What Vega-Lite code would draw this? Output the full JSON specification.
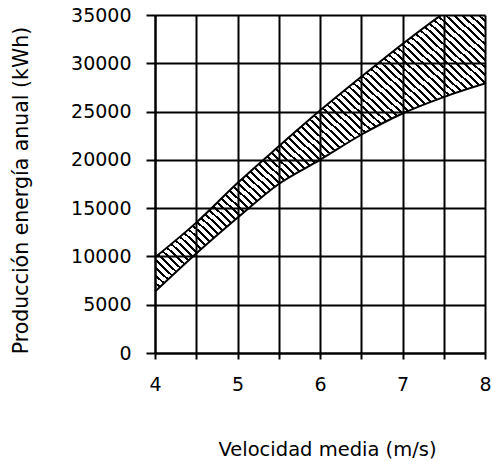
{
  "$schema": "https://vega.github.io/schema/vega-lite/v6.json",
  "width": 330,
  "height": 338,
  "autosize": "none",
  "padding": {"left": 155, "top": 15, "right": 7, "bottom": 108},
  "background": "white",
  "config": {
    "view": {"stroke": null},
    "axis": {
      "grid": true,
      "gridColor": "#000",
      "gridWidth": 2,
      "gridOpacity": 1,
      "domainColor": "#000",
      "domainWidth": 2,
      "tickColor": "#000",
      "tickWidth": 2,
      "labelColor": "#000",
      "titleColor": "#000",
      "labelFont": "DejaVu Sans",
      "titleFont": "DejaVu Sans",
      "labelFontSize": 19,
      "labelFlush": false,
      "labelOverlap": false,
      "titleFontWeight": "normal"
    }
  },
  "data": {
    "values": [
      {"v": 4.0, "lo": 6350, "hi": 9900},
      {"v": 4.5, "lo": 10300, "hi": 13500},
      {"v": 5.0, "lo": 14000, "hi": 17600},
      {"v": 5.5, "lo": 17500, "hi": 21400},
      {"v": 6.0, "lo": 20000, "hi": 25100},
      {"v": 6.5, "lo": 22600, "hi": 28600},
      {"v": 7.0, "lo": 24800, "hi": 32000},
      {"v": 7.5, "lo": 26500, "hi": 35200},
      {"v": 8.0, "lo": 27900, "hi": 38200}
    ]
  },
  "encoding": {
    "x": {
      "field": "v", "type": "quantitative",
      "scale": {"domain": [4, 8], "nice": false, "zero": false},
      "axis": {
        "values": [4, 4.5, 5, 5.5, 6, 6.5, 7, 7.5, 8],
        "labelExpr": "datum.value % 1 === 0 ? format(datum.value, 'd') : ''",
        "tickSize": 6,
        "labelPadding": 16,
        "title": "Velocidad media (m/s)",
        "titleFontSize": 19.5,
        "titleX": 172,
        "titleY": 102,
        "titleBaseline": "alphabetic",
        "titleAlign": "center"
      }
    }
  },
  "layer": [
    {
      "mark": {
        "type": "area",
        "interpolate": "monotone",
        "clip": true,
        "fill": {
          "gradient": "linear", "x1": 0, "y1": 1, "x2": 1, "y2": 0,
          "stops": [
            {"offset": 0, "color": "#000"}, {"offset": 0.0045, "color": "#000"}, {"offset": 0.0045, "color": "rgba(0,0,0,0)"}, {"offset": 0.0125, "color": "rgba(0,0,0,0)"},
            {"offset": 0.0125, "color": "#000"}, {"offset": 0.017, "color": "#000"}, {"offset": 0.017, "color": "rgba(0,0,0,0)"}, {"offset": 0.025, "color": "rgba(0,0,0,0)"},
            {"offset": 0.025, "color": "#000"}, {"offset": 0.0295, "color": "#000"}, {"offset": 0.0295, "color": "rgba(0,0,0,0)"}, {"offset": 0.0375, "color": "rgba(0,0,0,0)"},
            {"offset": 0.0375, "color": "#000"}, {"offset": 0.042, "color": "#000"}, {"offset": 0.042, "color": "rgba(0,0,0,0)"}, {"offset": 0.05, "color": "rgba(0,0,0,0)"},
            {"offset": 0.05, "color": "#000"}, {"offset": 0.0545, "color": "#000"}, {"offset": 0.0545, "color": "rgba(0,0,0,0)"}, {"offset": 0.0625, "color": "rgba(0,0,0,0)"},
            {"offset": 0.0625, "color": "#000"}, {"offset": 0.067, "color": "#000"}, {"offset": 0.067, "color": "rgba(0,0,0,0)"}, {"offset": 0.075, "color": "rgba(0,0,0,0)"},
            {"offset": 0.075, "color": "#000"}, {"offset": 0.0795, "color": "#000"}, {"offset": 0.0795, "color": "rgba(0,0,0,0)"}, {"offset": 0.0875, "color": "rgba(0,0,0,0)"},
            {"offset": 0.0875, "color": "#000"}, {"offset": 0.092, "color": "#000"}, {"offset": 0.092, "color": "rgba(0,0,0,0)"}, {"offset": 0.1, "color": "rgba(0,0,0,0)"},
            {"offset": 0.1, "color": "#000"}, {"offset": 0.1045, "color": "#000"}, {"offset": 0.1045, "color": "rgba(0,0,0,0)"}, {"offset": 0.1125, "color": "rgba(0,0,0,0)"},
            {"offset": 0.1125, "color": "#000"}, {"offset": 0.117, "color": "#000"}, {"offset": 0.117, "color": "rgba(0,0,0,0)"}, {"offset": 0.125, "color": "rgba(0,0,0,0)"},
            {"offset": 0.125, "color": "#000"}, {"offset": 0.1295, "color": "#000"}, {"offset": 0.1295, "color": "rgba(0,0,0,0)"}, {"offset": 0.1375, "color": "rgba(0,0,0,0)"},
            {"offset": 0.1375, "color": "#000"}, {"offset": 0.142, "color": "#000"}, {"offset": 0.142, "color": "rgba(0,0,0,0)"}, {"offset": 0.15, "color": "rgba(0,0,0,0)"},
            {"offset": 0.15, "color": "#000"}, {"offset": 0.1545, "color": "#000"}, {"offset": 0.1545, "color": "rgba(0,0,0,0)"}, {"offset": 0.1625, "color": "rgba(0,0,0,0)"},
            {"offset": 0.1625, "color": "#000"}, {"offset": 0.167, "color": "#000"}, {"offset": 0.167, "color": "rgba(0,0,0,0)"}, {"offset": 0.175, "color": "rgba(0,0,0,0)"},
            {"offset": 0.175, "color": "#000"}, {"offset": 0.1795, "color": "#000"}, {"offset": 0.1795, "color": "rgba(0,0,0,0)"}, {"offset": 0.1875, "color": "rgba(0,0,0,0)"},
            {"offset": 0.1875, "color": "#000"}, {"offset": 0.192, "color": "#000"}, {"offset": 0.192, "color": "rgba(0,0,0,0)"}, {"offset": 0.2, "color": "rgba(0,0,0,0)"},
            {"offset": 0.2, "color": "#000"}, {"offset": 0.2045, "color": "#000"}, {"offset": 0.2045, "color": "rgba(0,0,0,0)"}, {"offset": 0.2125, "color": "rgba(0,0,0,0)"},
            {"offset": 0.2125, "color": "#000"}, {"offset": 0.217, "color": "#000"}, {"offset": 0.217, "color": "rgba(0,0,0,0)"}, {"offset": 0.225, "color": "rgba(0,0,0,0)"},
            {"offset": 0.225, "color": "#000"}, {"offset": 0.2295, "color": "#000"}, {"offset": 0.2295, "color": "rgba(0,0,0,0)"}, {"offset": 0.2375, "color": "rgba(0,0,0,0)"},
            {"offset": 0.2375, "color": "#000"}, {"offset": 0.242, "color": "#000"}, {"offset": 0.242, "color": "rgba(0,0,0,0)"}, {"offset": 0.25, "color": "rgba(0,0,0,0)"},
            {"offset": 0.25, "color": "#000"}, {"offset": 0.2545, "color": "#000"}, {"offset": 0.2545, "color": "rgba(0,0,0,0)"}, {"offset": 0.2625, "color": "rgba(0,0,0,0)"},
            {"offset": 0.2625, "color": "#000"}, {"offset": 0.267, "color": "#000"}, {"offset": 0.267, "color": "rgba(0,0,0,0)"}, {"offset": 0.275, "color": "rgba(0,0,0,0)"},
            {"offset": 0.275, "color": "#000"}, {"offset": 0.2795, "color": "#000"}, {"offset": 0.2795, "color": "rgba(0,0,0,0)"}, {"offset": 0.2875, "color": "rgba(0,0,0,0)"},
            {"offset": 0.2875, "color": "#000"}, {"offset": 0.292, "color": "#000"}, {"offset": 0.292, "color": "rgba(0,0,0,0)"}, {"offset": 0.3, "color": "rgba(0,0,0,0)"},
            {"offset": 0.3, "color": "#000"}, {"offset": 0.3045, "color": "#000"}, {"offset": 0.3045, "color": "rgba(0,0,0,0)"}, {"offset": 0.3125, "color": "rgba(0,0,0,0)"},
            {"offset": 0.3125, "color": "#000"}, {"offset": 0.317, "color": "#000"}, {"offset": 0.317, "color": "rgba(0,0,0,0)"}, {"offset": 0.325, "color": "rgba(0,0,0,0)"},
            {"offset": 0.325, "color": "#000"}, {"offset": 0.3295, "color": "#000"}, {"offset": 0.3295, "color": "rgba(0,0,0,0)"}, {"offset": 0.3375, "color": "rgba(0,0,0,0)"},
            {"offset": 0.3375, "color": "#000"}, {"offset": 0.342, "color": "#000"}, {"offset": 0.342, "color": "rgba(0,0,0,0)"}, {"offset": 0.35, "color": "rgba(0,0,0,0)"},
            {"offset": 0.35, "color": "#000"}, {"offset": 0.3545, "color": "#000"}, {"offset": 0.3545, "color": "rgba(0,0,0,0)"}, {"offset": 0.3625, "color": "rgba(0,0,0,0)"},
            {"offset": 0.3625, "color": "#000"}, {"offset": 0.367, "color": "#000"}, {"offset": 0.367, "color": "rgba(0,0,0,0)"}, {"offset": 0.375, "color": "rgba(0,0,0,0)"},
            {"offset": 0.375, "color": "#000"}, {"offset": 0.3795, "color": "#000"}, {"offset": 0.3795, "color": "rgba(0,0,0,0)"}, {"offset": 0.3875, "color": "rgba(0,0,0,0)"},
            {"offset": 0.3875, "color": "#000"}, {"offset": 0.392, "color": "#000"}, {"offset": 0.392, "color": "rgba(0,0,0,0)"}, {"offset": 0.4, "color": "rgba(0,0,0,0)"},
            {"offset": 0.4, "color": "#000"}, {"offset": 0.4045, "color": "#000"}, {"offset": 0.4045, "color": "rgba(0,0,0,0)"}, {"offset": 0.4125, "color": "rgba(0,0,0,0)"},
            {"offset": 0.4125, "color": "#000"}, {"offset": 0.417, "color": "#000"}, {"offset": 0.417, "color": "rgba(0,0,0,0)"}, {"offset": 0.425, "color": "rgba(0,0,0,0)"},
            {"offset": 0.425, "color": "#000"}, {"offset": 0.4295, "color": "#000"}, {"offset": 0.4295, "color": "rgba(0,0,0,0)"}, {"offset": 0.4375, "color": "rgba(0,0,0,0)"},
            {"offset": 0.4375, "color": "#000"}, {"offset": 0.442, "color": "#000"}, {"offset": 0.442, "color": "rgba(0,0,0,0)"}, {"offset": 0.45, "color": "rgba(0,0,0,0)"},
            {"offset": 0.45, "color": "#000"}, {"offset": 0.4545, "color": "#000"}, {"offset": 0.4545, "color": "rgba(0,0,0,0)"}, {"offset": 0.4625, "color": "rgba(0,0,0,0)"},
            {"offset": 0.4625, "color": "#000"}, {"offset": 0.467, "color": "#000"}, {"offset": 0.467, "color": "rgba(0,0,0,0)"}, {"offset": 0.475, "color": "rgba(0,0,0,0)"},
            {"offset": 0.475, "color": "#000"}, {"offset": 0.4795, "color": "#000"}, {"offset": 0.4795, "color": "rgba(0,0,0,0)"}, {"offset": 0.4875, "color": "rgba(0,0,0,0)"},
            {"offset": 0.4875, "color": "#000"}, {"offset": 0.492, "color": "#000"}, {"offset": 0.492, "color": "rgba(0,0,0,0)"}, {"offset": 0.5, "color": "rgba(0,0,0,0)"},
            {"offset": 0.5, "color": "#000"}, {"offset": 0.5045, "color": "#000"}, {"offset": 0.5045, "color": "rgba(0,0,0,0)"}, {"offset": 0.5125, "color": "rgba(0,0,0,0)"},
            {"offset": 0.5125, "color": "#000"}, {"offset": 0.517, "color": "#000"}, {"offset": 0.517, "color": "rgba(0,0,0,0)"}, {"offset": 0.525, "color": "rgba(0,0,0,0)"},
            {"offset": 0.525, "color": "#000"}, {"offset": 0.5295, "color": "#000"}, {"offset": 0.5295, "color": "rgba(0,0,0,0)"}, {"offset": 0.5375, "color": "rgba(0,0,0,0)"},
            {"offset": 0.5375, "color": "#000"}, {"offset": 0.542, "color": "#000"}, {"offset": 0.542, "color": "rgba(0,0,0,0)"}, {"offset": 0.55, "color": "rgba(0,0,0,0)"},
            {"offset": 0.55, "color": "#000"}, {"offset": 0.5545, "color": "#000"}, {"offset": 0.5545, "color": "rgba(0,0,0,0)"}, {"offset": 0.5625, "color": "rgba(0,0,0,0)"},
            {"offset": 0.5625, "color": "#000"}, {"offset": 0.567, "color": "#000"}, {"offset": 0.567, "color": "rgba(0,0,0,0)"}, {"offset": 0.575, "color": "rgba(0,0,0,0)"},
            {"offset": 0.575, "color": "#000"}, {"offset": 0.5795, "color": "#000"}, {"offset": 0.5795, "color": "rgba(0,0,0,0)"}, {"offset": 0.5875, "color": "rgba(0,0,0,0)"},
            {"offset": 0.5875, "color": "#000"}, {"offset": 0.592, "color": "#000"}, {"offset": 0.592, "color": "rgba(0,0,0,0)"}, {"offset": 0.6, "color": "rgba(0,0,0,0)"},
            {"offset": 0.6, "color": "#000"}, {"offset": 0.6045, "color": "#000"}, {"offset": 0.6045, "color": "rgba(0,0,0,0)"}, {"offset": 0.6125, "color": "rgba(0,0,0,0)"},
            {"offset": 0.6125, "color": "#000"}, {"offset": 0.617, "color": "#000"}, {"offset": 0.617, "color": "rgba(0,0,0,0)"}, {"offset": 0.625, "color": "rgba(0,0,0,0)"},
            {"offset": 0.625, "color": "#000"}, {"offset": 0.6295, "color": "#000"}, {"offset": 0.6295, "color": "rgba(0,0,0,0)"}, {"offset": 0.6375, "color": "rgba(0,0,0,0)"},
            {"offset": 0.6375, "color": "#000"}, {"offset": 0.642, "color": "#000"}, {"offset": 0.642, "color": "rgba(0,0,0,0)"}, {"offset": 0.65, "color": "rgba(0,0,0,0)"},
            {"offset": 0.65, "color": "#000"}, {"offset": 0.6545, "color": "#000"}, {"offset": 0.6545, "color": "rgba(0,0,0,0)"}, {"offset": 0.6625, "color": "rgba(0,0,0,0)"},
            {"offset": 0.6625, "color": "#000"}, {"offset": 0.667, "color": "#000"}, {"offset": 0.667, "color": "rgba(0,0,0,0)"}, {"offset": 0.675, "color": "rgba(0,0,0,0)"},
            {"offset": 0.675, "color": "#000"}, {"offset": 0.6795, "color": "#000"}, {"offset": 0.6795, "color": "rgba(0,0,0,0)"}, {"offset": 0.6875, "color": "rgba(0,0,0,0)"},
            {"offset": 0.6875, "color": "#000"}, {"offset": 0.692, "color": "#000"}, {"offset": 0.692, "color": "rgba(0,0,0,0)"}, {"offset": 0.7, "color": "rgba(0,0,0,0)"},
            {"offset": 0.7, "color": "#000"}, {"offset": 0.7045, "color": "#000"}, {"offset": 0.7045, "color": "rgba(0,0,0,0)"}, {"offset": 0.7125, "color": "rgba(0,0,0,0)"},
            {"offset": 0.7125, "color": "#000"}, {"offset": 0.717, "color": "#000"}, {"offset": 0.717, "color": "rgba(0,0,0,0)"}, {"offset": 0.725, "color": "rgba(0,0,0,0)"},
            {"offset": 0.725, "color": "#000"}, {"offset": 0.7295, "color": "#000"}, {"offset": 0.7295, "color": "rgba(0,0,0,0)"}, {"offset": 0.7375, "color": "rgba(0,0,0,0)"},
            {"offset": 0.7375, "color": "#000"}, {"offset": 0.742, "color": "#000"}, {"offset": 0.742, "color": "rgba(0,0,0,0)"}, {"offset": 0.75, "color": "rgba(0,0,0,0)"},
            {"offset": 0.75, "color": "#000"}, {"offset": 0.7545, "color": "#000"}, {"offset": 0.7545, "color": "rgba(0,0,0,0)"}, {"offset": 0.7625, "color": "rgba(0,0,0,0)"},
            {"offset": 0.7625, "color": "#000"}, {"offset": 0.767, "color": "#000"}, {"offset": 0.767, "color": "rgba(0,0,0,0)"}, {"offset": 0.775, "color": "rgba(0,0,0,0)"},
            {"offset": 0.775, "color": "#000"}, {"offset": 0.7795, "color": "#000"}, {"offset": 0.7795, "color": "rgba(0,0,0,0)"}, {"offset": 0.7875, "color": "rgba(0,0,0,0)"},
            {"offset": 0.7875, "color": "#000"}, {"offset": 0.792, "color": "#000"}, {"offset": 0.792, "color": "rgba(0,0,0,0)"}, {"offset": 0.8, "color": "rgba(0,0,0,0)"},
            {"offset": 0.8, "color": "#000"}, {"offset": 0.8045, "color": "#000"}, {"offset": 0.8045, "color": "rgba(0,0,0,0)"}, {"offset": 0.8125, "color": "rgba(0,0,0,0)"},
            {"offset": 0.8125, "color": "#000"}, {"offset": 0.817, "color": "#000"}, {"offset": 0.817, "color": "rgba(0,0,0,0)"}, {"offset": 0.825, "color": "rgba(0,0,0,0)"},
            {"offset": 0.825, "color": "#000"}, {"offset": 0.8295, "color": "#000"}, {"offset": 0.8295, "color": "rgba(0,0,0,0)"}, {"offset": 0.8375, "color": "rgba(0,0,0,0)"},
            {"offset": 0.8375, "color": "#000"}, {"offset": 0.842, "color": "#000"}, {"offset": 0.842, "color": "rgba(0,0,0,0)"}, {"offset": 0.85, "color": "rgba(0,0,0,0)"},
            {"offset": 0.85, "color": "#000"}, {"offset": 0.8545, "color": "#000"}, {"offset": 0.8545, "color": "rgba(0,0,0,0)"}, {"offset": 0.8625, "color": "rgba(0,0,0,0)"},
            {"offset": 0.8625, "color": "#000"}, {"offset": 0.867, "color": "#000"}, {"offset": 0.867, "color": "rgba(0,0,0,0)"}, {"offset": 0.875, "color": "rgba(0,0,0,0)"},
            {"offset": 0.875, "color": "#000"}, {"offset": 0.8795, "color": "#000"}, {"offset": 0.8795, "color": "rgba(0,0,0,0)"}, {"offset": 0.8875, "color": "rgba(0,0,0,0)"},
            {"offset": 0.8875, "color": "#000"}, {"offset": 0.892, "color": "#000"}, {"offset": 0.892, "color": "rgba(0,0,0,0)"}, {"offset": 0.9, "color": "rgba(0,0,0,0)"},
            {"offset": 0.9, "color": "#000"}, {"offset": 0.9045, "color": "#000"}, {"offset": 0.9045, "color": "rgba(0,0,0,0)"}, {"offset": 0.9125, "color": "rgba(0,0,0,0)"},
            {"offset": 0.9125, "color": "#000"}, {"offset": 0.917, "color": "#000"}, {"offset": 0.917, "color": "rgba(0,0,0,0)"}, {"offset": 0.925, "color": "rgba(0,0,0,0)"},
            {"offset": 0.925, "color": "#000"}, {"offset": 0.9295, "color": "#000"}, {"offset": 0.9295, "color": "rgba(0,0,0,0)"}, {"offset": 0.9375, "color": "rgba(0,0,0,0)"},
            {"offset": 0.9375, "color": "#000"}, {"offset": 0.942, "color": "#000"}, {"offset": 0.942, "color": "rgba(0,0,0,0)"}, {"offset": 0.95, "color": "rgba(0,0,0,0)"},
            {"offset": 0.95, "color": "#000"}, {"offset": 0.9545, "color": "#000"}, {"offset": 0.9545, "color": "rgba(0,0,0,0)"}, {"offset": 0.9625, "color": "rgba(0,0,0,0)"},
            {"offset": 0.9625, "color": "#000"}, {"offset": 0.967, "color": "#000"}, {"offset": 0.967, "color": "rgba(0,0,0,0)"}, {"offset": 0.975, "color": "rgba(0,0,0,0)"},
            {"offset": 0.975, "color": "#000"}, {"offset": 0.9795, "color": "#000"}, {"offset": 0.9795, "color": "rgba(0,0,0,0)"}, {"offset": 0.9875, "color": "rgba(0,0,0,0)"},
            {"offset": 0.9875, "color": "#000"}, {"offset": 0.992, "color": "#000"}, {"offset": 0.992, "color": "rgba(0,0,0,0)"}, {"offset": 1, "color": "rgba(0,0,0,0)"}
          ]
        }
      },
      "encoding": {
        "y": {
          "field": "hi", "type": "quantitative",
          "scale": {"domain": [0, 35000], "nice": false},
          "axis": {
            "values": [0, 5000, 10000, 15000, 20000, 25000, 30000, 35000],
            "format": "d",
            "tickSize": 9,
            "labelPadding": 15,
            "title": "Producción energía anual (kWh)",
            "titleFontSize": 20.5,
            "titleX": -128,
            "titleY": 175,
            "titleBaseline": "alphabetic",
            "titleAlign": "center"
          }
        },
        "y2": {"field": "lo"}
      }
    },
    {
      "mark": {"type": "line", "interpolate": "monotone", "clip": true, "color": "#000", "strokeWidth": 2},
      "encoding": {"y": {"field": "hi", "type": "quantitative"}}
    },
    {
      "mark": {"type": "line", "interpolate": "monotone", "clip": true, "color": "#000", "strokeWidth": 2},
      "encoding": {"y": {"field": "lo", "type": "quantitative"}}
    }
  ]
}
